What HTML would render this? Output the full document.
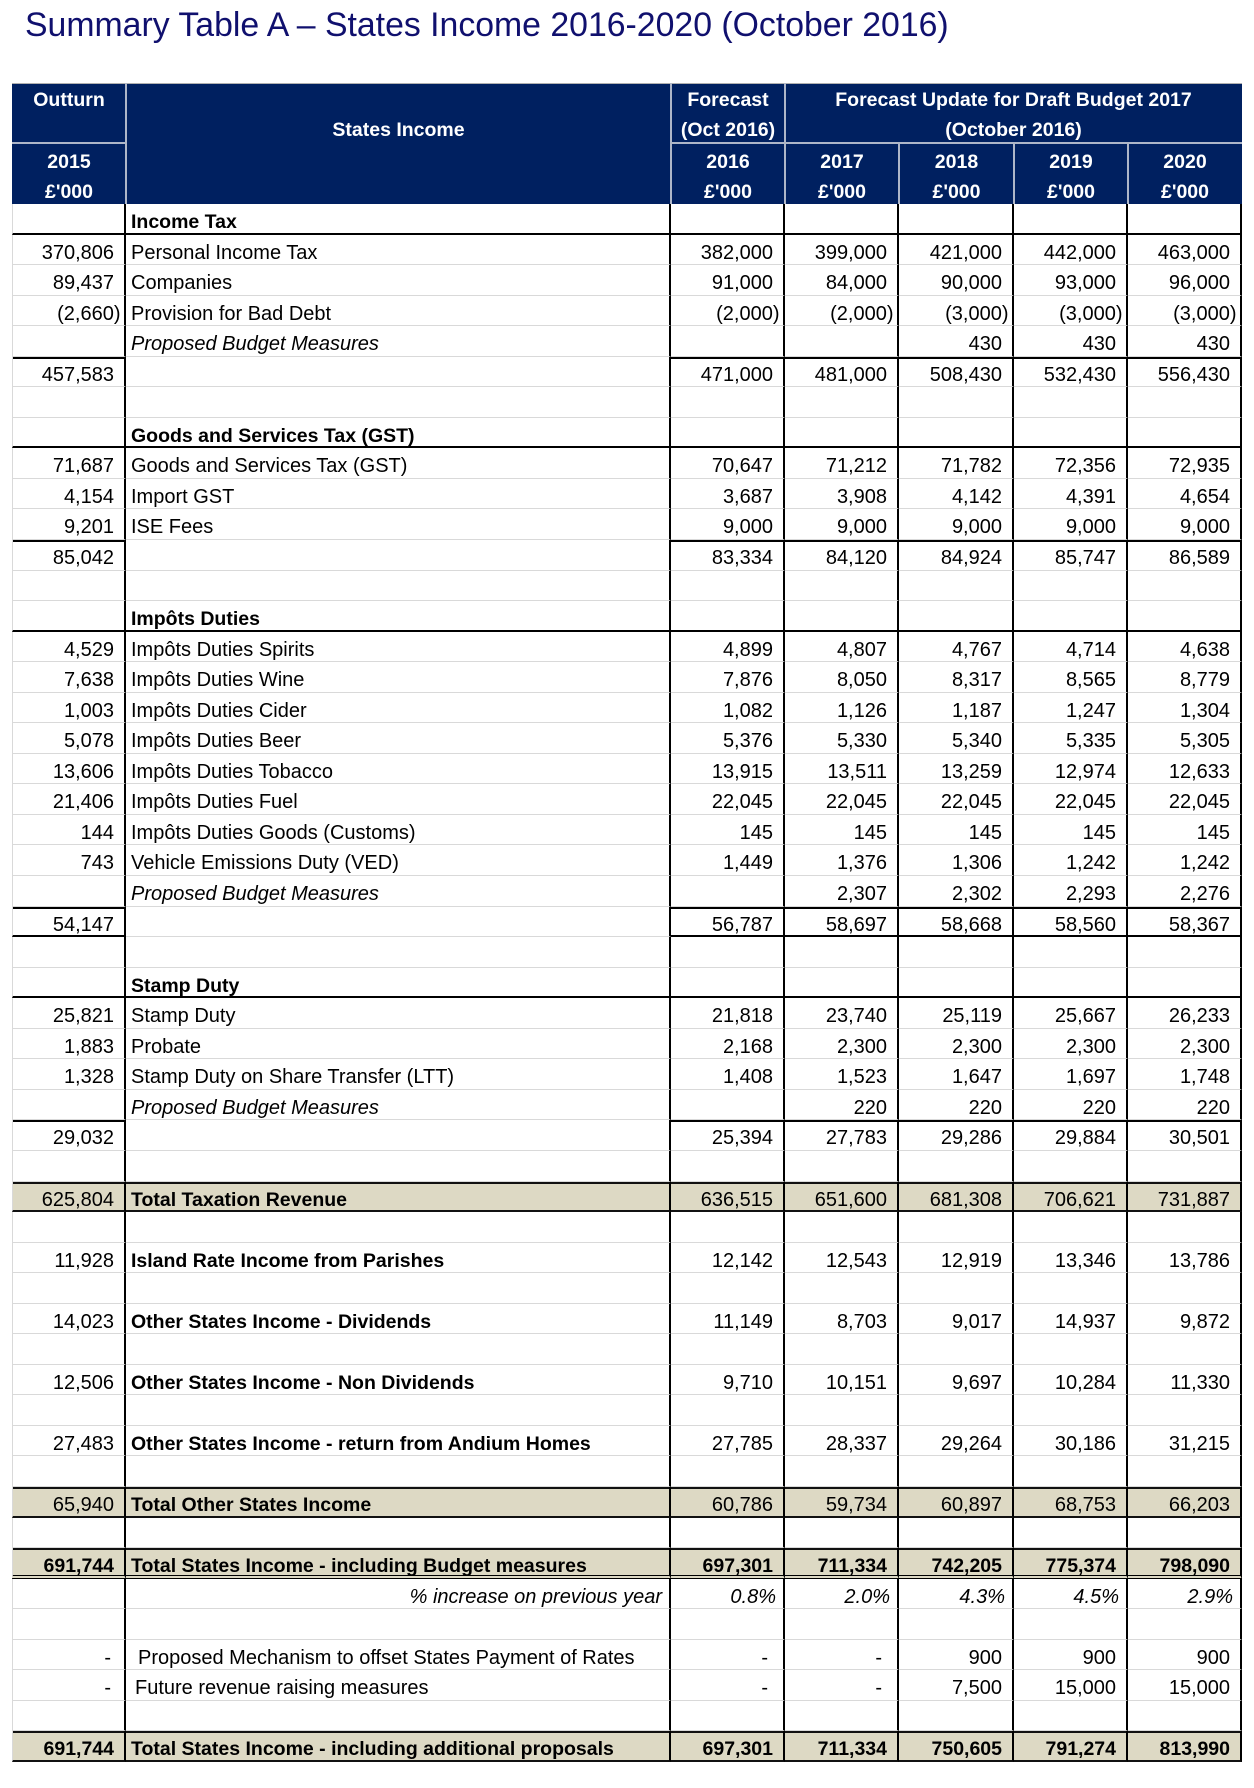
<!DOCTYPE html>
<html>
<head>
<meta charset="utf-8">
<style>
  html,body{margin:0;padding:0;background:#fff;}
  body{width:1254px;height:1788px;position:relative;overflow:hidden;font-family:"Liberation Sans",Arial,sans-serif;color:#000;}
  .title{position:absolute;left:25px;top:9px;font-size:33.8px;line-height:33.4px;color:#10106e;white-space:nowrap;}
  .hd{position:absolute;left:12px;top:83px;width:1230px;height:121px;background:#002060;box-shadow:inset 0 1px 0 #b0b0b0;}
  .hl{position:absolute;background:#aeb6c8;}
  .ht{position:absolute;color:#fff;font-weight:bold;font-size:19.5px;line-height:20px;text-align:center;white-space:nowrap;}
  .g{position:absolute;left:12px;top:204px;width:1230px;display:grid;grid-template-columns:114px 545px 114px 114px 115px 114px 114px;grid-auto-rows:30.55px;}
  .r{display:contents;}
  .r>div{box-sizing:border-box;border-right:2px solid #000;border-bottom:1px solid #d9d9d9;padding:3px 10px 0 5px;line-height:30.55px;font-size:20px;white-space:nowrap;text-align:right;}
  .r>div:nth-child(1){border-left:1px solid #d9d9d9;}
  .r>div:nth-child(2){text-align:left;padding-left:5px;}
  .r>div.ng{padding-right:3.5px;}
  .r>div.ds{padding-right:15px;}
  .r>div:nth-child(1).ds{padding-right:13px;}
  .b{font-weight:bold;font-size:19.5px !important;}
  .i{font-style:italic;}
  .sec>div{border-bottom:2px solid #000;}
  .sec>div:nth-child(2){font-weight:bold;font-size:19.5px;}
  .sub>div:not(:nth-child(2)){box-shadow:inset 0 2px 0 #000;}
  .sb>div:not(:nth-child(2)){border-bottom:2px solid #000;}
  .tot>div{background:#ddd9c4;box-shadow:inset 0 2px 0 #111;border-bottom:2px solid #111;}
  .tot>div:nth-child(2){font-weight:bold;font-size:19.5px;}
  .totb>div{font-weight:bold;font-size:19.5px;}
  .dbl>div{border-bottom:4px double #000;}
  .pct>div{font-style:italic;padding-right:7px;}
  .pct>div:nth-child(2){text-align:right;padding-right:7px;}
</style>
</head>
<body>
<div class="title">Summary Table A – States Income 2016-2020 (October 2016)</div>

<div class="hd"></div>
<div class="hl" style="left:125px;top:83px;width:2px;height:121px;"></div>
<div class="hl" style="left:670px;top:83px;width:2px;height:121px;"></div>
<div class="hl" style="left:784px;top:83px;width:2px;height:121px;"></div>
<div class="hl" style="left:898px;top:143px;width:2px;height:61px;"></div>
<div class="hl" style="left:1013px;top:143px;width:2px;height:61px;"></div>
<div class="hl" style="left:1127px;top:143px;width:2px;height:61px;"></div>
<div class="hl" style="left:12px;top:142px;width:114px;height:2px;"></div>
<div class="hl" style="left:671px;top:142px;width:571px;height:2px;"></div>
<div class="ht" style="left:12px;width:114px;top:89.7px;">Outturn</div>
<div class="ht" style="left:12px;width:114px;top:151.5px;">2015</div>
<div class="ht" style="left:12px;width:114px;top:181.5px;">£'000</div>
<div class="ht" style="left:126px;width:545px;top:120.2px;">States Income</div>
<div class="ht" style="left:671px;width:114px;top:89.7px;">Forecast</div>
<div class="ht" style="left:671px;width:114px;top:120.2px;">(Oct 2016)</div>
<div class="ht" style="left:671px;width:114px;top:151.5px;">2016</div>
<div class="ht" style="left:671px;width:114px;top:181.5px;">£'000</div>
<div class="ht" style="left:785px;width:457px;top:89.7px;">Forecast Update for Draft Budget 2017</div>
<div class="ht" style="left:785px;width:457px;top:120.2px;">(October 2016)</div>
<div class="ht" style="left:785px;width:114px;top:151.5px;">2017</div>
<div class="ht" style="left:785px;width:114px;top:181.5px;">£'000</div>
<div class="ht" style="left:899px;width:115px;top:151.5px;">2018</div>
<div class="ht" style="left:899px;width:115px;top:181.5px;">£'000</div>
<div class="ht" style="left:1014px;width:114px;top:151.5px;">2019</div>
<div class="ht" style="left:1014px;width:114px;top:181.5px;">£'000</div>
<div class="ht" style="left:1128px;width:114px;top:151.5px;">2020</div>
<div class="ht" style="left:1128px;width:114px;top:181.5px;">£'000</div>

<div class="g">
  <div class="r sec"><div></div><div>Income Tax</div><div></div><div></div><div></div><div></div><div></div></div>
  <div class="r"><div>370,806</div><div>Personal Income Tax</div><div>382,000</div><div>399,000</div><div>421,000</div><div>442,000</div><div>463,000</div></div>
  <div class="r"><div>89,437</div><div>Companies</div><div>91,000</div><div>84,000</div><div>90,000</div><div>93,000</div><div>96,000</div></div>
  <div class="r"><div class="ng">(2,660)</div><div>Provision for Bad Debt</div><div class="ng">(2,000)</div><div class="ng">(2,000)</div><div class="ng">(3,000)</div><div class="ng">(3,000)</div><div class="ng">(3,000)</div></div>
  <div class="r"><div></div><div class="i">Proposed Budget Measures</div><div></div><div></div><div>430</div><div>430</div><div>430</div></div>
  <div class="r sub"><div>457,583</div><div></div><div>471,000</div><div>481,000</div><div>508,430</div><div>532,430</div><div>556,430</div></div>
  <div class="r"><div></div><div></div><div></div><div></div><div></div><div></div><div></div></div>
  <div class="r sec"><div></div><div>Goods and Services Tax (GST)</div><div></div><div></div><div></div><div></div><div></div></div>
  <div class="r"><div>71,687</div><div>Goods and Services Tax (GST)</div><div>70,647</div><div>71,212</div><div>71,782</div><div>72,356</div><div>72,935</div></div>
  <div class="r"><div>4,154</div><div>Import GST</div><div>3,687</div><div>3,908</div><div>4,142</div><div>4,391</div><div>4,654</div></div>
  <div class="r"><div>9,201</div><div>ISE Fees</div><div>9,000</div><div>9,000</div><div>9,000</div><div>9,000</div><div>9,000</div></div>
  <div class="r sub"><div>85,042</div><div></div><div>83,334</div><div>84,120</div><div>84,924</div><div>85,747</div><div>86,589</div></div>
  <div class="r"><div></div><div></div><div></div><div></div><div></div><div></div><div></div></div>
  <div class="r sec"><div></div><div>Impôts Duties</div><div></div><div></div><div></div><div></div><div></div></div>
  <div class="r"><div>4,529</div><div>Impôts Duties Spirits</div><div>4,899</div><div>4,807</div><div>4,767</div><div>4,714</div><div>4,638</div></div>
  <div class="r"><div>7,638</div><div>Impôts Duties Wine</div><div>7,876</div><div>8,050</div><div>8,317</div><div>8,565</div><div>8,779</div></div>
  <div class="r"><div>1,003</div><div>Impôts Duties Cider</div><div>1,082</div><div>1,126</div><div>1,187</div><div>1,247</div><div>1,304</div></div>
  <div class="r"><div>5,078</div><div>Impôts Duties Beer</div><div>5,376</div><div>5,330</div><div>5,340</div><div>5,335</div><div>5,305</div></div>
  <div class="r"><div>13,606</div><div>Impôts Duties Tobacco</div><div>13,915</div><div>13,511</div><div>13,259</div><div>12,974</div><div>12,633</div></div>
  <div class="r"><div>21,406</div><div>Impôts Duties Fuel</div><div>22,045</div><div>22,045</div><div>22,045</div><div>22,045</div><div>22,045</div></div>
  <div class="r"><div>144</div><div>Impôts Duties Goods (Customs)</div><div>145</div><div>145</div><div>145</div><div>145</div><div>145</div></div>
  <div class="r"><div>743</div><div>Vehicle Emissions Duty (VED)</div><div>1,449</div><div>1,376</div><div>1,306</div><div>1,242</div><div>1,242</div></div>
  <div class="r"><div></div><div class="i">Proposed Budget Measures</div><div></div><div>2,307</div><div>2,302</div><div>2,293</div><div>2,276</div></div>
  <div class="r sub sb"><div>54,147</div><div></div><div>56,787</div><div>58,697</div><div>58,668</div><div>58,560</div><div>58,367</div></div>
  <div class="r"><div></div><div></div><div></div><div></div><div></div><div></div><div></div></div>
  <div class="r sec"><div></div><div>Stamp Duty</div><div></div><div></div><div></div><div></div><div></div></div>
  <div class="r"><div>25,821</div><div>Stamp Duty</div><div>21,818</div><div>23,740</div><div>25,119</div><div>25,667</div><div>26,233</div></div>
  <div class="r"><div>1,883</div><div>Probate</div><div>2,168</div><div>2,300</div><div>2,300</div><div>2,300</div><div>2,300</div></div>
  <div class="r"><div>1,328</div><div>Stamp Duty on Share Transfer (LTT)</div><div>1,408</div><div>1,523</div><div>1,647</div><div>1,697</div><div>1,748</div></div>
  <div class="r"><div></div><div class="i">Proposed Budget Measures</div><div></div><div>220</div><div>220</div><div>220</div><div>220</div></div>
  <div class="r sub"><div>29,032</div><div></div><div>25,394</div><div>27,783</div><div>29,286</div><div>29,884</div><div>30,501</div></div>
  <div class="r"><div></div><div></div><div></div><div></div><div></div><div></div><div></div></div>
  <div class="r tot"><div>625,804</div><div>Total Taxation Revenue</div><div>636,515</div><div>651,600</div><div>681,308</div><div>706,621</div><div>731,887</div></div>
  <div class="r"><div></div><div></div><div></div><div></div><div></div><div></div><div></div></div>
  <div class="r"><div>11,928</div><div class="b">Island Rate Income from Parishes</div><div>12,142</div><div>12,543</div><div>12,919</div><div>13,346</div><div>13,786</div></div>
  <div class="r"><div></div><div></div><div></div><div></div><div></div><div></div><div></div></div>
  <div class="r"><div>14,023</div><div class="b">Other States Income - Dividends</div><div>11,149</div><div>8,703</div><div>9,017</div><div>14,937</div><div>9,872</div></div>
  <div class="r"><div></div><div></div><div></div><div></div><div></div><div></div><div></div></div>
  <div class="r"><div>12,506</div><div class="b">Other States Income - Non Dividends</div><div>9,710</div><div>10,151</div><div>9,697</div><div>10,284</div><div>11,330</div></div>
  <div class="r"><div></div><div></div><div></div><div></div><div></div><div></div><div></div></div>
  <div class="r"><div>27,483</div><div class="b">Other States Income - return from Andium Homes</div><div>27,785</div><div>28,337</div><div>29,264</div><div>30,186</div><div>31,215</div></div>
  <div class="r"><div></div><div></div><div></div><div></div><div></div><div></div><div></div></div>
  <div class="r tot"><div>65,940</div><div>Total Other States Income</div><div>60,786</div><div>59,734</div><div>60,897</div><div>68,753</div><div>66,203</div></div>
  <div class="r"><div></div><div></div><div></div><div></div><div></div><div></div><div></div></div>
  <div class="r tot totb dbl"><div>691,744</div><div>Total States Income - including Budget measures</div><div>697,301</div><div>711,334</div><div>742,205</div><div>775,374</div><div>798,090</div></div>
  <div class="r pct"><div></div><div>% increase on previous year</div><div>0.8%</div><div>2.0%</div><div>4.3%</div><div>4.5%</div><div>2.9%</div></div>
  <div class="r"><div></div><div></div><div></div><div></div><div></div><div></div><div></div></div>
  <div class="r"><div class="ds">-</div><div style="padding-left:12px;">Proposed Mechanism to offset States Payment of Rates</div><div class="ds">-</div><div class="ds">-</div><div>900</div><div>900</div><div>900</div></div>
  <div class="r"><div class="ds">-</div><div style="padding-left:9px;">Future revenue raising measures</div><div class="ds">-</div><div class="ds">-</div><div>7,500</div><div>15,000</div><div>15,000</div></div>
  <div class="r"><div></div><div></div><div></div><div></div><div></div><div></div><div></div></div>
  <div class="r tot totb"><div>691,744</div><div>Total States Income - including additional proposals</div><div>697,301</div><div>711,334</div><div>750,605</div><div>791,274</div><div>813,990</div></div>
</div>
</body>
</html>
